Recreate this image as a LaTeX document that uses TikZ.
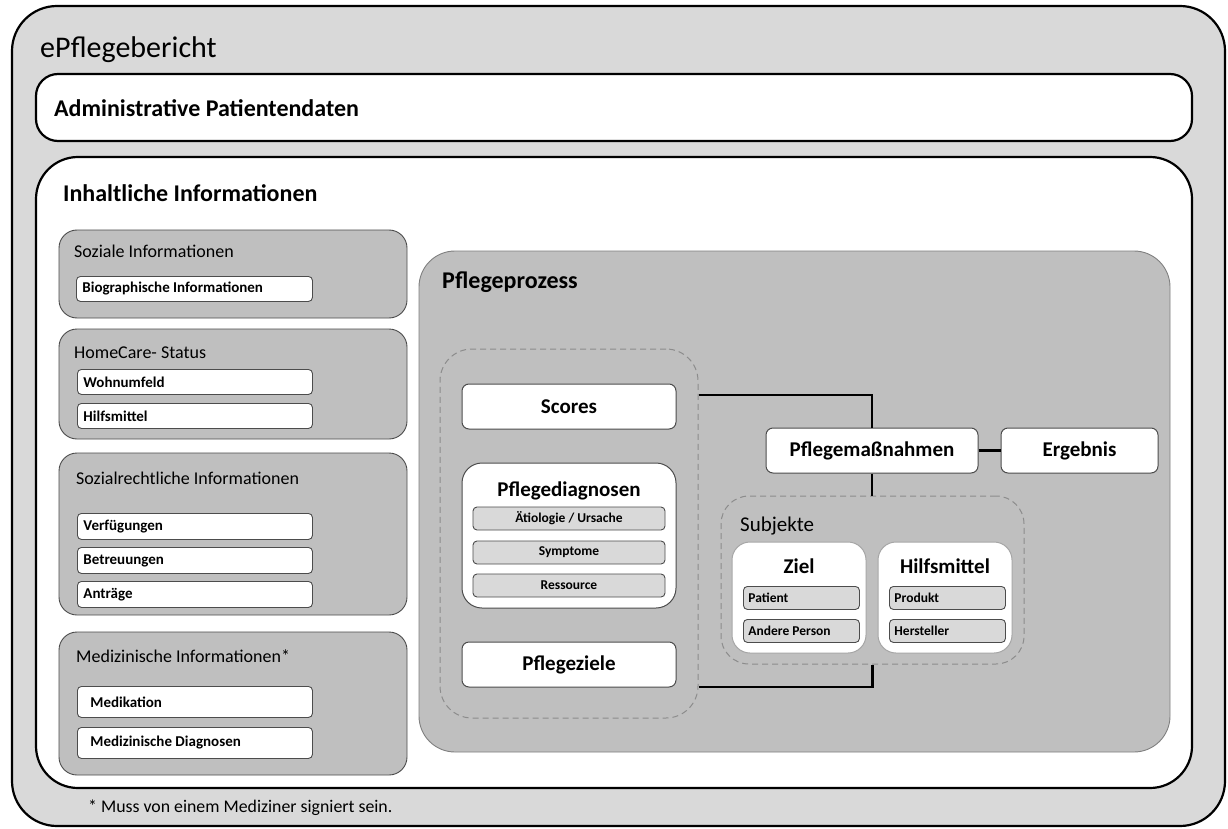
\documentclass[tikz,border=0pt]{standalone}
\usepackage{fontspec}
\setmainfont{Carlito}
\usepackage{xcolor}
\usetikzlibrary{positioning, fit}

\definecolor{bglight}{gray}{0.85}
\definecolor{bgmid}{gray}{0.75}
\definecolor{rimgray}{gray}{0.30}
\definecolor{dashgray}{gray}{0.55}
\definecolor{panelrim}{gray}{0.65}

\newcommand{\fs}[1]{\fontsize{#1}{#1}\selectfont}

\begin{document}
\begin{tikzpicture}[x=1pt, y=-1pt,
  frame/.style={draw=black, line width=2.2pt, inner sep=0pt},
  grp/.style={draw=rimgray, line width=0.9pt, fill=bgmid, rounded corners=18pt, inner sep=0pt},
  dashgrp/.style={draw=dashgray, line width=1pt, dash pattern=on 6pt off 4pt,
                  rounded corners=32pt, inner sep=0pt},
  box/.style={draw=rimgray, line width=1pt, fill=white, rounded corners=7pt, inner sep=0pt,
              minimum height=45pt, font=\bfseries\fs{21}},
  panel/.style={draw=panelrim, line width=1pt, fill=white, rounded corners=18pt, inner sep=0pt},
  item/.style={draw=rimgray, line width=0.9pt, fill=white, rounded corners=4pt, anchor=north west,
               inner xsep=6pt, inner ysep=0pt, align=flush left, font=\bfseries\fs{15}},
  subitem/.style={draw=rimgray, line width=0.9pt, fill=bglight, rounded corners=4pt, inner sep=0pt,
                  minimum height=23pt, font=\bfseries\fs{13.5}},
  head/.style={anchor=base west, inner sep=0pt, font=\bfseries\fs{24}},
  gtitle/.style={anchor=base west, inner sep=0pt, font=\fs{18}},
  ptitle/.style={anchor=base, inner sep=0pt, font=\bfseries\fs{21}},
  link/.style={draw=black, line width=2.6pt}
]
  \useasboundingbox (0,0) rectangle (1228,829);

  % Outer frame
  \node[frame, fill=bglight, rounded corners=45pt, fit={(12,6) (1225,826)}] (bericht) {};
  \node[anchor=base west, inner sep=0pt, font=\fs{30}] (berichttitel) at (40,58) {ePflegebericht};
  \node[anchor=base west, inner sep=0pt, font=\fs{17.8}] (fussnote) at (88,812)
    {* Muss von einem Mediziner signiert sein.};

  % Administrative data
  \node[frame, fill=white, rounded corners=22pt, fit={(36,74) (1192,141)}] (admin) {};
  \node[head] (admintitel) at (54,117) {Administrative Patientendaten};

  % Content
  \node[frame, fill=white, rounded corners=42pt, fit={(36,157) (1192,788)}] (inhalt) {};
  \node[head] (inhalttitel) at (63,201) {Inhaltliche Informationen};

  % Left column
  \node[grp, fit={(59,230) (407,318)}] (sozial) {};
  \node[gtitle] (sozialtitel) at (74,257) {Soziale Informationen};
  \node[item, minimum width=236pt, text width=224pt, minimum height=25pt] (bio) at (76,276)
    {Biographische Informationen};

  \node[grp, fit={(59,329) (407,439)}] (homecare) {};
  \node[gtitle] (homecaretitel) at (74,358) {HomeCare- Status};
  \foreach \y/\t/\n in {369/Wohnumfeld/wohn, 403/Hilfsmittel/hilfe}{
    \node[item, minimum width=235pt, text width=223pt, minimum height=25pt] (\n) at (77,\y) {\t};
  }

  \node[grp, fit={(59,453) (407,615)}] (recht) {};
  \node[gtitle] (rechttitel) at (76,484) {Sozialrechtliche Informationen};
  \foreach \y/\t/\n in {513/Verfügungen/verf, 547/Betreuungen/betr, 581/Anträge/antr}{
    \node[item, minimum width=235pt, text width=223pt, minimum height=26pt] (\n) at (77,\y) {\t};
  }

  \node[grp, fit={(59,632) (407,775)}] (medizin) {};
  \node[gtitle] (medizintitel) at (76,662) {Medizinische Informationen*};
  \foreach \y/\t/\n in {686/Medikation/medi, 727/Medizinische Diagnosen/diag}{
    \node[item, minimum width=235pt, text width=221pt, inner xsep=7pt, minimum height=31pt]
      (\n) at (77,\y) {\hspace*{6pt}\t};
  }

  % Nursing process
  \node[grp, draw=gray, rounded corners=36pt, fit={(419,251) (1170,752)}] (prozess) {};
  \node[head] (prozesstitel) at (442,288) {Pflegeprozess};

  \node[dashgrp, fit={(440,349) (698,718)}] (befund) {};
  \node[box, minimum width=214pt] (scores) at (569,406.5) {Scores};
  \node[box, rounded corners=20pt, fit={(462,463) (676,608)}] (diagnosen) {};
  \node[ptitle] (diagnosentitel) at (569,496) {Pflegediagnosen};
  \foreach \y/\t/\n in {518.5/{Ätiologie / Ursache}/aetio, 552.5/Symptome/sympt, 585.5/Ressource/ress}{
    \node[subitem, minimum width=192pt] (\n) at (569,\y) {\t};
  }
  \node[box, minimum width=214pt] (ziele) at (569,664.5) {Pflegeziele};

  \node[box, minimum width=212pt] (massnahmen) at (872,450.5) {Pflegemaßnahmen};
  \node[box, minimum width=157pt] (ergebnis) at (1079.5,450.5) {Ergebnis};

  \node[dashgrp, rounded corners=28pt, fit={(721,496) (1024,664)}] (subjekte) {};
  \node[anchor=base west, inner sep=0pt, font=\fs{21}] (subjektetitel) at (740,531) {Subjekte};

  \node[panel, fit={(732,542) (866,653)}] (ziel) {};
  \node[ptitle] (zieltitel) at (799,573) {Ziel};
  \foreach \y/\t/\n in {586/Patient/patient, 619/Andere Person/person}{
    \node[subitem, anchor=north west, minimum width=116pt, text width=106pt, inner xsep=5pt,
          align=flush left] (\n) at (743,\y) {\t};
  }

  \node[panel, fit={(878,542) (1012,653)}] (mittel) {};
  \node[ptitle] (mitteltitel) at (945,573) {Hilfsmittel};
  \foreach \y/\t/\n in {586/Produkt/produkt, 619/Hersteller/hersteller}{
    \node[subitem, anchor=north west, minimum width=116pt, text width=106pt, inner xsep=5pt,
          align=flush left] (\n) at (889,\y) {\t};
  }

  % Connectors
  \coordinate (oben) at (befund.east |- 0,395);
  \coordinate (unten) at (befund.east |- 0,687);
  \draw[link] (oben) -| (massnahmen.north);
  \draw[link] (unten) -| (subjekte.south);
  \draw[link] (massnahmen.south) -- (massnahmen.south |- subjekte.north);
  \draw[link] (massnahmen.east) -- (ergebnis.west);
\end{tikzpicture}
\end{document}
